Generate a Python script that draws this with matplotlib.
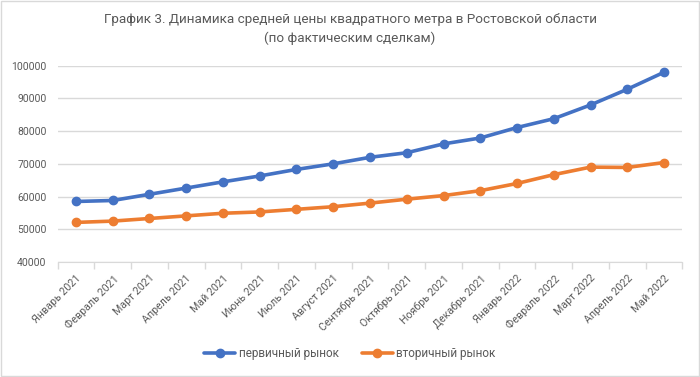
import matplotlib
matplotlib.use("Agg")
import matplotlib.pyplot as plt
from matplotlib.patches import Rectangle
import numpy as np

months = ["Январь 2021", "Февраль 2021", "Март 2021", "Апрель 2021", "Май 2021",
          "Июнь 2021", "Июль 2021", "Август 2021", "Сентябрь 2021", "Октябрь 2021",
          "Ноябрь 2021", "Декабрь 2021", "Январь 2022", "Февраль 2022", "Март 2022",
          "Апрель 2022", "Май 2022"]
primary = [58500, 58800, 60700, 62600, 64500, 66300, 68300, 70000, 72000, 73400,
           76100, 77900, 81100, 83800, 88000, 92800, 98000]
secondary = [52100, 52500, 53300, 54100, 54900, 55300, 56100, 56900, 58000, 59200,
             60300, 61800, 64000, 66700, 69000, 68900, 70400]
yticks = [40000, 50000, 60000, 70000, 80000, 90000, 100000]

plt.rcParams['font.family'] = ['Roboto', 'DejaVu Sans']
grey = '#595959'
W, H = 700, 377
fig = plt.figure(figsize=(W/100, H/100), dpi=100)
fig.patches.append(Rectangle((1/W, 1/H), 1-2/W, 1-2/H, transform=fig.transFigure,
                             fill=False, edgecolor='#D9D9D9', linewidth=1))

ax = fig.add_axes([57.6/W, 1-262/H, (682.4-57.6)/W, (262-65.7)/H])
x = np.arange(len(months))
ax.plot(x, primary, color='#4472C4', lw=2.6, marker='o', ms=6, label='первичный рынок',
        solid_capstyle='round', zorder=3)
ax.plot(x, secondary, color='#ED7D31', lw=2.6, marker='o', ms=6, label='вторичный рынок',
        solid_capstyle='round', zorder=3)

ax.set_xlim(-0.5, len(months)-0.5)
ax.set_ylim(40000, 100000)
ax.set_yticks(yticks)
ax.set_yticklabels([str(v) for v in yticks], fontsize=7.5, color=grey)
ax.yaxis.grid(True, color='#D9D9D9', lw=1)
ax.set_axisbelow(True)
ax.tick_params(axis='y', length=0, pad=8)

ax.set_xticks(x)
ax.set_xticklabels(months, rotation=45, ha='right', va='top', rotation_mode='anchor',
                   fontsize=7.7, color=grey)
ax.set_xticks(np.arange(-0.5, len(months)), minor=True)
ax.tick_params(axis='x', which='major', length=0, pad=8)
ax.tick_params(axis='x', which='minor', length=5, color='#D9D9D9', width=1)
for s in ['top', 'right', 'left']:
    ax.spines[s].set_visible(False)
ax.spines['bottom'].set_color('#D9D9D9')

fig.text(0.5, 1-20/H, "График 3. Динамика средней цены квадратного метра в Ростовской области",
         ha='center', va='center', fontsize=9.7, color=grey)
fig.text(0.5, 1-38/H, "(по фактическим сделкам)", ha='center', va='center', fontsize=9.7, color=grey)

leg = fig.legend(loc='center', bbox_to_anchor=(0.5, 1-354/H), ncol=2, frameon=False,
                 fontsize=8.5, handlelength=2.6, columnspacing=2.0, handletextpad=0.3)
for t in leg.get_texts():
    t.set_color(grey)

fig.savefig("out.png", dpi=100)
